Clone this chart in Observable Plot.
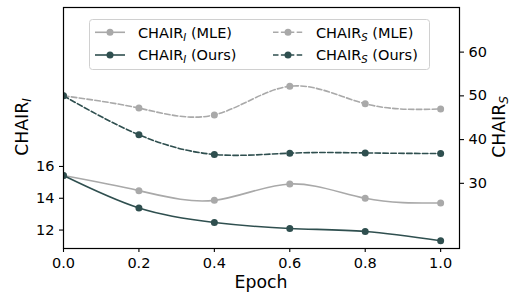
<!DOCTYPE html>
<html><head><meta charset="utf-8">
<script src="https://cdn.jsdelivr.net/npm/d3@7"></script>
<script src="https://cdn.jsdelivr.net/npm/@observablehq/plot@0.6"></script>
<style>
body{margin:0;background:#fff;}
#wrap{position:relative;width:513px;height:292px;}
</style>
</head><body><div id="wrap"></div>
<script>
const epochs = [0.0, 0.2, 0.4, 0.6, 0.8, 1.0];
const chairIMle = [15.43, 14.48, 13.87, 14.9, 14.0, 13.7];
const chairIOurs = [15.43, 13.39, 12.48, 12.1, 11.91, 11.33];
const chairSMle = [50.0, 47.2, 45.65, 52.2, 48.2, 47.0];
const chairSOurs = [50.0, 41.1, 36.6, 36.9, 36.95, 36.8];
const xTicks = [0.0, 0.2, 0.4, 0.6, 0.8, 1.0];
const leftTicks = [12, 14, 16];
const rightTicks = [30, 40, 50, 60];
const leftDomain = [10.84, 26.0];
const rightDomain = [15.1, 70.2];

const GRAY = "#a9a9a9", DARK = "#2f4f4f";
const toLeft = d3.scaleLinear(rightDomain, leftDomain);
const rows = (ys, f = v => v) => epochs.map((x, i) => ({x, y: f(ys[i])}));
const iMle = rows(chairIMle), iOurs = rows(chairIOurs);
const sMle = rows(chairSMle, toLeft), sOurs = rows(chairSOurs, toLeft);

const lineOpts = (c, dash) => ({x: "x", y: "y", stroke: c, strokeWidth: 1.6, curve: "natural", clip: true, strokeDasharray: dash});
const dotOpts = c => ({x: "x", y: "y", fill: c, r: 3.5, clip: true});
const axisCommon = {tickSize: 4, tickPadding: 5, label: null, stroke: "black", strokeWidth: 1.1};

const chart = Plot.plot({
  width: 513, height: 292,
  marginLeft: 63, marginRight: 54, marginTop: 7, marginBottom: 44,
  style: {fontFamily: "DejaVu Sans, sans-serif", fontSize: "14.5px", color: "black", background: "white"},
  x: {domain: [0, 1.05]},
  y: {domain: leftDomain},
  marks: [
    Plot.line(iMle, lineOpts(GRAY)),
    Plot.dot(iMle, dotOpts(GRAY)),
    Plot.line(iOurs, lineOpts(DARK)),
    Plot.dot(iOurs, dotOpts(DARK)),
    Plot.line(sMle, lineOpts(GRAY, "5.5,2.4")),
    Plot.dot(sMle, dotOpts(GRAY)),
    Plot.line(sOurs, lineOpts(DARK, "5.5,2.4")),
    Plot.dot(sOurs, dotOpts(DARK)),
    Plot.axisX(xTicks, {...axisCommon, tickFormat: d3.format(".1f")}),
    Plot.axisY(leftTicks, {...axisCommon, anchor: "left", tickFormat: d => String(d)}),
    Plot.axisY(rightTicks.map(v => toLeft(v)), {...axisCommon, anchor: "right", tickFormat: d => String(Math.round(toLeft.invert(d)))}),
    Plot.frame({stroke: "black", strokeWidth: 1.2})
  ]
});
document.getElementById("wrap").appendChild(chart);

const svg = d3.select(chart);
const FF = "DejaVu Sans, sans-serif";
function subText(sel, base, sub, rest, size) {
  sel.append("tspan").text(base);
  sel.append("tspan").attr("dy", size * 0.2).attr("font-size", size * 0.7).attr("font-style", "italic").text(sub);
  if (rest) sel.append("tspan").attr("dy", -size * 0.2).text(rest);
}
// axis labels
const LS = 17.3;
svg.append("text").attr("transform", "translate(27.5,127) rotate(-90)").attr("text-anchor", "middle")
  .attr("font-family", FF).attr("font-size", LS).attr("fill", "black")
  .call(s => subText(s, "CHAIR", "I", null, LS));
svg.append("text").attr("transform", "translate(504.5,127) rotate(-90)").attr("text-anchor", "middle")
  .attr("font-family", FF).attr("font-size", LS).attr("fill", "black")
  .call(s => subText(s, "CHAIR", "S", null, LS));
svg.append("text").attr("x", 261).attr("y", 288).attr("text-anchor", "middle")
  .attr("font-family", FF).attr("font-size", LS).attr("fill", "black").text("Epoch");

// legend
const lg = svg.append("g");
lg.append("rect").attr("x", 89.5).attr("y", 19.5).attr("width", 340).attr("height", 50).attr("rx", 3)
  .attr("fill", "white").attr("fill-opacity", 0.8).attr("stroke", "#d0d0d0");
const entries = [
  {x: 95, y: 32.3, c: GRAY, dash: null, sub: "I", rest: " (MLE)"},
  {x: 95, y: 55, c: DARK, dash: null, sub: "I", rest: " (Ours)"},
  {x: 273, y: 32.3, c: GRAY, dash: "5.5,2.4", sub: "S", rest: " (MLE)"},
  {x: 273, y: 55, c: DARK, dash: "5.5,2.4", sub: "S", rest: " (Ours)"}
];
for (const e of entries) {
  lg.append("line").attr("x1", e.x).attr("x2", e.x + 30).attr("y1", e.y).attr("y2", e.y)
    .attr("stroke", e.c).attr("stroke-width", 1.6).attr("stroke-dasharray", e.dash);
  lg.append("circle").attr("cx", e.x + 15).attr("cy", e.y).attr("r", 3.5).attr("fill", e.c);
  lg.append("text").attr("x", e.x + 43).attr("y", e.y + 5.3).attr("text-anchor", "start")
    .attr("font-family", FF).attr("font-size", 14.5).attr("fill", "black")
    .call(s => subText(s, "CHAIR", e.sub, e.rest, 14.5));
}
</script>
</body></html>
